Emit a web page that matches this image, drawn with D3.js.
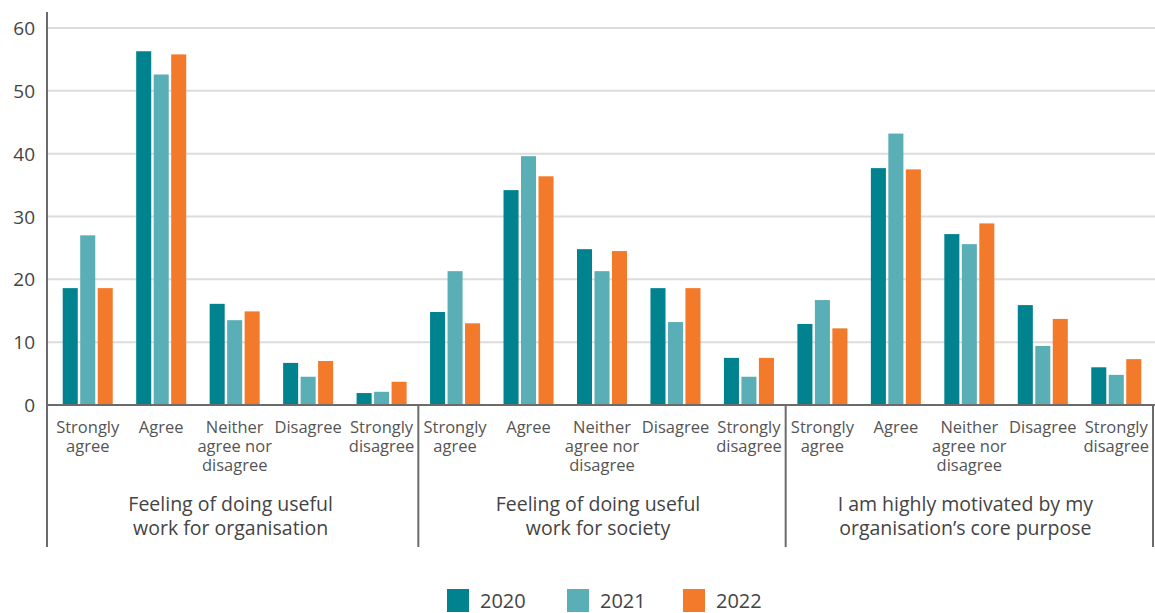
<!DOCTYPE html>
<html>
<head>
<meta charset="utf-8">
<script src="https://d3js.org/d3.v7.min.js"></script>
<style>
  html, body { margin: 0; padding: 0; background: #fff; }
  svg { display: block; font-family: "Open Sans", Lato, sans-serif; }
</style>
</head>
<body>
<svg id="main"></svg>
<script>
// data
const groups = [
  ["Feeling of doing useful", "work for organisation"],
  ["Feeling of doing useful", "work for society"],
  ["I am highly motivated by my", "organisation\u2019s core purpose"]
];
const categories = [
  ["Strongly", "agree"],
  ["Agree"],
  ["Neither", "agree nor", "disagree"],
  ["Disagree"],
  ["Strongly", "disagree"]
];
const years = ["2020", "2021", "2022"];
const colors = ["#00838e", "#5aaeb5", "#f37a2b"];
const yTicks = [0, 10, 20, 30, 40, 50, 60];

// values[group][category] = [2020, 2021, 2022]
const values = [
  [[18.6, 27.0, 18.6], [56.3, 52.6, 55.8], [16.1, 13.5, 14.9], [6.7, 4.5, 7.0], [1.9, 2.1, 3.7]],
  [[14.8, 21.3, 13.0], [34.2, 39.6, 36.4], [24.8, 21.3, 24.5], [18.6, 13.2, 18.6], [7.5, 4.5, 7.5]],
  [[12.9, 16.7, 12.2], [37.7, 43.2, 37.5], [27.2, 25.6, 28.9], [15.9, 9.4, 13.7], [6.0, 4.8, 7.3]]
];

const width = 1155, height = 613;
const svg = d3.select("#main").attr("width", width).attr("height", height);

const x0 = d3.scaleBand().domain(d3.range(groups.length)).range([51, 1153]);
const x1 = d3.scaleBand().domain(d3.range(categories.length)).range([0, x0.bandwidth()]);
const x2 = d3.scaleBand().domain(years).range([0, x1.bandwidth()]).paddingInner(0.14).paddingOuter(0.67);
const y = d3.scaleLinear().domain([0, 60]).range([405, 28]);

// gridlines
svg.append("g")
  .selectAll("line")
  .data(yTicks.filter(d => d > 0))
  .join("line")
  .attr("x1", 47).attr("x2", 1155)
  .attr("y1", d => y(d)).attr("y2", d => y(d))
  .attr("stroke", "#dcdcdc").attr("stroke-width", 2);

// y tick labels
svg.append("g")
  .selectAll("text")
  .data(yTicks)
  .join("text")
  .attr("x", 35)
  .attr("y", d => y(d) + 7)
  .attr("text-anchor", "end")
  .attr("font-size", 19)
  .attr("fill", "#444")
  .text(d => d);

// bars
const gGroup = svg.append("g")
  .selectAll("g")
  .data(values)
  .join("g")
  .attr("transform", (d, i) => `translate(${x0(i)},0)`);

const gCat = gGroup.selectAll("g")
  .data(d => d)
  .join("g")
  .attr("transform", (d, i) => `translate(${x1(i)},0)`);

gCat.selectAll("rect")
  .data(d => d)
  .join("rect")
  .attr("x", (d, i) => x2(years[i]))
  .attr("y", d => y(d))
  .attr("width", x2.bandwidth())
  .attr("height", d => y(0) - y(d))
  .attr("fill", (d, i) => colors[i]);

// axes lines
svg.append("line")
  .attr("x1", 47).attr("x2", 1155)
  .attr("y1", y(0)).attr("y2", y(0))
  .attr("stroke", "#6b6b6b").attr("stroke-width", 2);

const dividers = [47, x0(1), x0(2), 1153];
svg.append("g")
  .selectAll("line")
  .data(dividers)
  .join("line")
  .attr("x1", d => d).attr("x2", d => d)
  .attr("y1", (d, i) => i === 0 ? 12 : y(0))
  .attr("y2", 547)
  .attr("stroke", "#6b6b6b").attr("stroke-width", 2);

// category + group labels, one text element per line
gGroup.each(function (gd, gi) {
  const g = d3.select(this);
  categories.forEach((lines, ci) => {
    g.selectAll(null)
      .data(lines)
      .join("text")
      .attr("text-anchor", "middle")
      .attr("font-size", 16.5)
      .attr("fill", "#555")
      .attr("x", x1(ci) + x1.bandwidth() / 2)
      .attr("y", (d, i) => 433 + i * 19)
      .text(d => d);
  });

  g.selectAll(null)
    .data(groups[gi])
    .join("text")
    .attr("text-anchor", "middle")
    .attr("font-size", 19.5)
    .attr("fill", "#444")
    .attr("x", x0.bandwidth() / 2 - 4)
    .attr("y", (d, i) => 511 + i * 24)
    .text(d => d);
});

// legend
const legendX = [447, 567, 683];
const legend = svg.append("g")
  .selectAll("g")
  .data(years)
  .join("g")
  .attr("transform", (d, i) => `translate(${legendX[i]},589)`);
legend.append("rect")
  .attr("width", 22).attr("height", 23)
  .attr("fill", (d, i) => colors[i]);
legend.append("text")
  .attr("x", 33).attr("y", 19)
  .attr("font-size", 20)
  .attr("fill", "#444")
  .text(d => d);
</script>
</body>
</html>
